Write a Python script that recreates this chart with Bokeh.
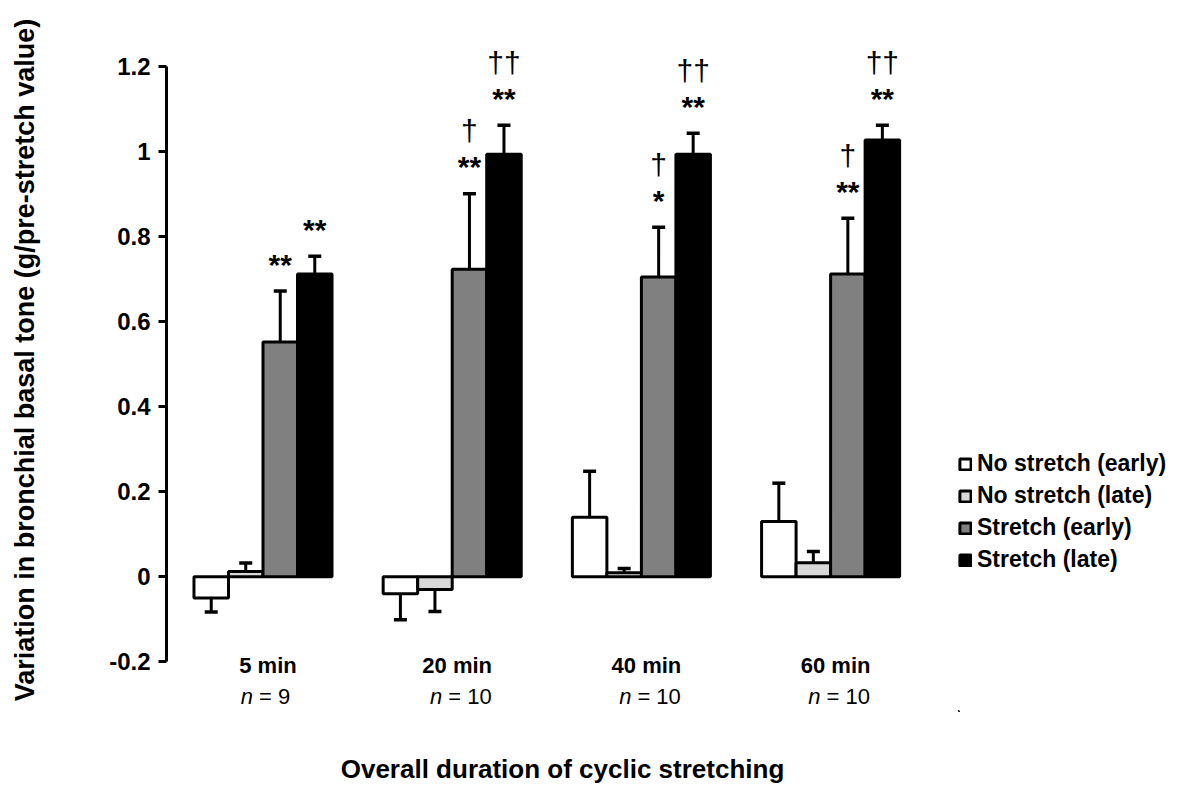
import numpy as np
from bokeh.plotting import figure
from bokeh.layouts import row
from bokeh.models import Range1d, FixedTicker, ColumnDataSource, Legend, LegendItem
from bokeh.core.properties import value
from bokeh.embed import file_html
from bokeh.resources import INLINE

# ---------------- data ----------------
durations = ["5 min", "20 min", "40 min", "60 min"]
n_values = [9, 10, 10, 10]
series = ["No stretch (early)", "No stretch (late)", "Stretch (early)", "Stretch (late)"]

no_stretch_early = [-0.05, -0.04, 0.14, 0.13]
no_stretch_early_err = [0.033, 0.061, 0.108, 0.09]
no_stretch_late = [0.012, -0.03, 0.009, 0.033]
no_stretch_late_err = [0.02, 0.052, 0.01, 0.026]
stretch_early = [0.552, 0.723, 0.705, 0.712]
stretch_early_err = [0.12, 0.178, 0.117, 0.131]
stretch_late = [0.712, 0.994, 0.994, 1.027]
stretch_late_err = [0.042, 0.068, 0.049, 0.035]

stretch_early_stars = ["**", "**", "*", "**"]
stretch_late_stars = ["**", "**", "**", "**"]
stretch_early_daggers = ["", "\u2020", "\u2020", "\u2020"]
stretch_late_daggers = ["", "\u2020\u2020", "\u2020\u2020", "\u2020\u2020"]

y_ticks = [-0.2, 0, 0.2, 0.4, 0.6, 0.8, 1, 1.2]
y_tick_labels = ["-0.2", "0", "0.2", "0.4", "0.6", "0.8", "1", "1.2"]

# ---------------- styles ----------------
FONT_NAME = "Liberation Sans"
FONT = value(FONT_NAME)
colors = ["#ffffff", "#d9d9d9", "#808080", "#000000"]
bar_w = 0.1824
offsets = [-1.5 * bar_w, -0.5 * bar_w, 0.5 * bar_w, 1.5 * bar_w]

p = figure(width=958, height=786, output_backend="svg", toolbar_location=None,
           x_range=Range1d(-0.510, 3.676), y_range=Range1d(-0.3171, 1.3366),
           min_border_left=166, min_border_right=0, min_border_top=8,
           min_border_bottom=74)
p.outline_line_color = None
p.grid.visible = False
p.background_fill_color = "white"
p.border_fill_color = "white"

# y axis
ya = p.yaxis[0]
ya.bounds = (-0.2, 1.2)
ya.ticker = FixedTicker(ticks=y_ticks, minor_ticks=[])
ya.major_label_overrides = {t: l for t, l in zip(y_ticks, y_tick_labels)}
ya.axis_line_width = 3
ya.axis_line_color = "black"
ya.major_tick_line_width = 3
ya.major_tick_out = 8
ya.major_tick_in = 0
ya.minor_tick_line_color = None
ya.major_label_text_font = FONT_NAME
ya.major_label_text_font_style = "bold"
ya.major_label_text_font_size = "24px"
ya.major_label_text_color = "black"
ya.major_label_standoff = 8
ya.axis_label = "Variation in bronchial basal tone (g/pre-stretch value)"
ya.axis_label_text_font = FONT_NAME
ya.axis_label_text_font_style = "bold"
ya.axis_label_text_font_size = "27px"
ya.axis_label_text_color = "black"
ya.axis_label_standoff = 66

# x axis (title only)
xa = p.xaxis[0]
xa.ticker = FixedTicker(ticks=[], minor_ticks=[])
xa.axis_line_color = None
xa.major_tick_line_color = None
xa.minor_tick_line_color = None
xa.major_tick_out = 0
xa.minor_tick_out = 0
xa.major_label_standoff = 0
xa.axis_label = "Overall duration of cyclic stretching"
xa.axis_label_text_font = FONT_NAME
xa.axis_label_text_font_style = "bold"
xa.axis_label_text_font_size = "26px"
xa.axis_label_text_color = "black"
xa.axis_label_standoff = 42

idx = np.arange(len(durations), dtype=float)
vals = [no_stretch_early, no_stretch_late, stretch_early, stretch_late]
errs = [no_stretch_early_err, no_stretch_late_err, stretch_early_err, stretch_late_err]

caps = []
for k in range(4):
    v = np.array(vals[k])
    e = np.array(errs[k])
    xs = idx + offsets[k]
    cap = v + np.sign(v) * e
    caps.append(cap)
    src = ColumnDataSource(dict(x=xs, top=v, cap=cap))
    p.vbar(x="x", top="top", bottom=0, width=bar_w, source=src,
           fill_color=colors[k], line_color="black", line_width=3)
for k in range(4):
    v = np.array(vals[k])
    xs = idx + offsets[k]
    p.segment(x0=xs, y0=v, x1=xs, y1=caps[k], line_color="black", line_width=3)
    p.scatter(x=xs, y=caps[k], marker="dash", size=13, line_color="black", line_width=3.5)

# significance marks
for k, st, dg in [(2, stretch_early_stars, stretch_early_daggers),
                  (3, stretch_late_stars, stretch_late_daggers)]:
    xs = idx + offsets[k]
    p.text(x=xs, y=caps[k], text=st, text_align="center", text_baseline="alphabetic",
           y_offset=-27, text_font=FONT, text_font_style="bold", text_font_size="30px",
           text_color="black")
    p.text(x=xs, y=caps[k], text=dg, text_align="center", text_baseline="alphabetic",
           y_offset=-63, text_font=FONT, text_font_size="30px", text_color="black")

# category labels
ybase = [y_ticks[0]] * len(durations)
p.text(x=idx, y=ybase, text=durations, text_align="center", text_baseline="middle",
       x_offset=5, y_offset=4, text_font=FONT, text_font_style="bold",
       text_font_size="22px", text_color="black")
p.text(x=idx, y=ybase, text=["n"] * len(durations), text_align="right",
       text_baseline="middle", x_offset=-10, y_offset=35, text_font=FONT,
       text_font_style="italic", text_font_size="22px", text_color="black")
p.text(x=idx, y=ybase, text=["= %d" % n for n in n_values], text_align="left",
       text_baseline="middle", x_offset=-4, y_offset=35, text_font=FONT,
       text_font_size="22px", text_color="black")

# ---------------- legend panel ----------------
lg = figure(width=224, height=786, output_backend="svg", toolbar_location=None,
            x_range=Range1d(0, 1), y_range=Range1d(0, 1),
            x_axis_type=None, y_axis_type=None,
            min_border_left=0, min_border_right=0, min_border_top=0, min_border_bottom=0)
lg.outline_line_color = None
lg.grid.visible = False
lg.background_fill_color = "white"
lg.border_fill_color = "white"
items = []
for s, c in zip(series, colors):
    # one swatch per series placed far outside the view, used only for the legend key
    r = lg.vbar(x=[-50], top=[-50], bottom=[-51], width=0.1, fill_color=c,
                line_color="black", line_width=3)
    items.append(LegendItem(label=s, renderers=[r]))
legend = Legend(items=items, location=(0, 138), orientation="vertical")
legend.border_line_color = None
legend.background_fill_alpha = 0
legend.padding = 0
legend.margin = 0
legend.spacing = 5
legend.glyph_width = 14
legend.glyph_height = 14
legend.label_height = 25
legend.label_standoff = 5
legend.label_text_font = FONT_NAME
legend.label_text_font_style = "bold"
legend.label_text_font_size = "23px"
legend.label_text_color = "black"
lg.add_layout(legend, "center")

layout = row(p, lg, spacing=0)
open("out.html", "w").write(file_html(layout, INLINE))
